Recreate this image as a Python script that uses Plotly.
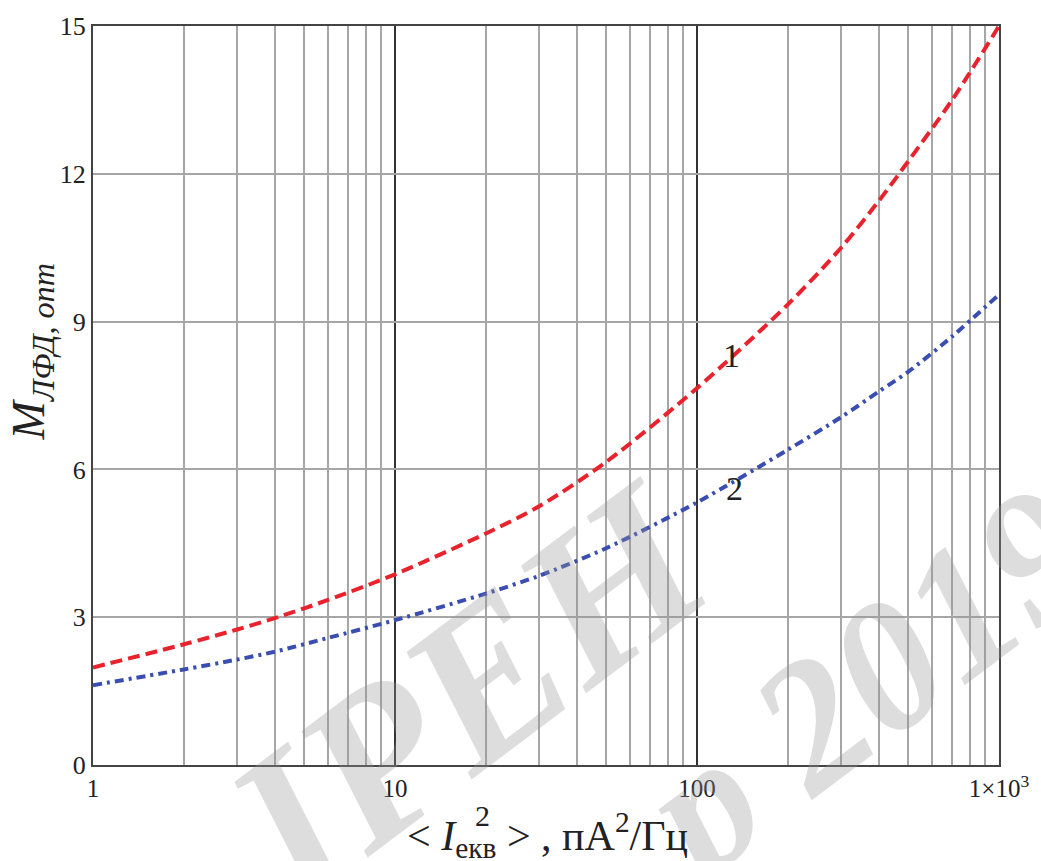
import plotly.graph_objects as go

# Data
x_vals = [1, 2, 3, 4, 6, 10, 20, 30, 50, 100, 200, 300, 400, 500, 700, 1000]
curve1 = [1.98, 2.45, 2.75, 2.98, 3.35, 3.87, 4.70, 5.25, 6.15, 7.65, 9.35, 10.5, 11.45, 12.25, 13.5, 15.0]
curve2 = [1.62, 1.94, 2.14, 2.30, 2.58, 2.94, 3.48, 3.84, 4.40, 5.33, 6.40, 7.06, 7.58, 7.98, 8.70, 9.55]

x_tickvals = [1, 10, 100, 1000]
x_ticktext = ["1", "10", "100", "1×10<sup>3</sup>"]
x_minor = [m * d for d in (1, 10, 100) for m in range(2, 10)]
y_tickvals = [0, 3, 6, 9, 12, 15]

W, H = 1041, 861
L, R, T, B = 93, 36, 15, 96
PW, PH = W - L - R, H - T - B


def px(xp):
    return (xp - L) / PW


def py(yp):
    return (H - B - yp) / PH


SERIF = "Liberation Serif"

fig = go.Figure()
fig.add_trace(go.Scatter(
    x=x_vals, y=curve1, mode="lines",
    line=dict(color="#e8232d", width=4, dash="12px,6px", shape="spline", smoothing=0.8),
    showlegend=False, hoverinfo="skip"))
fig.add_trace(go.Scatter(
    x=x_vals, y=curve2, mode="lines",
    line=dict(color="#3a4db0", width=4, dash="9px,5px,3px,5px", shape="spline", smoothing=0.8),
    showlegend=False, hoverinfo="skip"))


def ann(text, x, y, size, angle=0, color="#222", xanchor="center", yanchor="middle"):
    return dict(text=text, x=px(x), y=py(y), xref="paper", yref="paper", showarrow=False,
                textangle=angle, xanchor=xanchor, yanchor=yanchor,
                font=dict(family=SERIF, size=size, color=color))


WM = "rgba(150,150,150,0.32)"
annotations = [
    # watermark
    ann("<b><i>IPEH</i></b>", 470, 690, 215, angle=-37, color=WM),
    ann("<b><i>p 2019</i></b>", 868, 682, 185, angle=-37, color=WM),
    # curve labels
    ann("1", 736, 349, 34),
    ann("2", 739, 484, 34),
    # y title
    ann("<i>M</i><sub><i>ЛФД, опт</i></sub>", 32, 345, 46, angle=-90),
    # x title
    ann("&lt; <i>I</i><sub>екв</sub> &gt; , пА<sup>2</sup>/Гц", 407, 836, 42, xanchor="left"),
    ann("2", 485, 816, 30),
]

fig.update_layout(
    width=W, height=H, margin=dict(l=L, r=R, t=T, b=B),
    paper_bgcolor="white", plot_bgcolor="white",
    font=dict(family=SERIF, size=24, color="#222"),
    annotations=annotations,
    xaxis=dict(type="log", range=[0, 3], tickvals=x_tickvals, ticktext=x_ticktext,
               showgrid=True, gridcolor="#333333", gridwidth=1.5,
               minor=dict(tickvals=x_minor, showgrid=True, gridcolor="#a6a6a6", gridwidth=2, ticks=""),
               showline=True, linecolor="#444444", linewidth=2, mirror=True, ticks="",
               ticklabelstandoff=0,
               tickfont=dict(family=SERIF, size=25, color="#222"), zeroline=False),
    yaxis=dict(range=[0, 15], tickvals=y_tickvals, showgrid=True, gridcolor="#a6a6a6", gridwidth=2,
               showline=True, linecolor="#444444", linewidth=2, mirror=True,
               ticks="", ticklabelstandoff=0,
               tickfont=dict(family=SERIF, size=26, color="#222"), zeroline=False),
)

fig.write_html("out.html")
